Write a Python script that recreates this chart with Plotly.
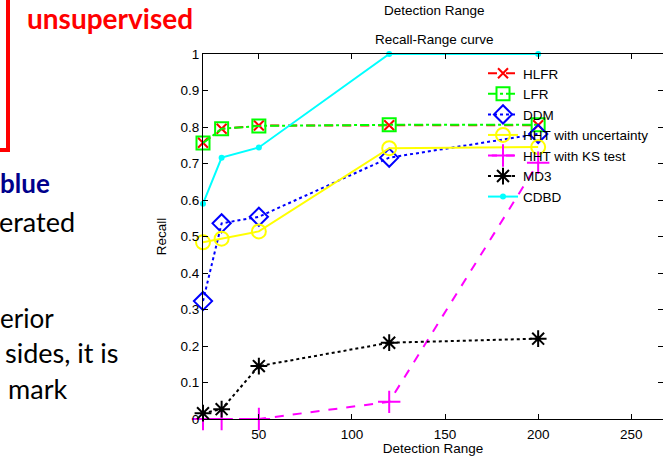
import plotly.graph_objects as go

# ---- data ----
detection_range = [20, 30, 50, 120, 200]
hlfr = [0.757, 0.795, 0.804, 0.805, 0.805]
lfr = [0.756, 0.795, 0.803, 0.806, 0.806]
ddm = [0.323, 0.536, 0.554, 0.716, 0.781]
hht_unc = [0.484, 0.494, 0.514, 0.742, 0.745]
hht_ks = [0.0, 0.0, 0.0, 0.047, 0.702]
md3 = [0.016, 0.027, 0.145, 0.209, 0.220]
cdbd = [0.590, 0.716, 0.744, 1.0, 1.0]

x_ticks = [50, 100, 150, 200, 250]
y_ticks = [0, 0.1, 0.2, 0.3, 0.4, 0.5, 0.6, 0.7, 0.8, 0.9, 1]
y_tick_text = ["0", "0.1", "0.2", "0.3", "0.4", "0.5", "0.6", "0.7", "0.8", "0.9", "1"]

W, H = 663, 456
L, T, B = 203, 54, 37
PW = W - L
PH = H - T - B
X_MIN = 20
X_MAX = X_MIN + PW / 1.862


def px(xp):
    return (xp - L) / PW


def py(yp):
    return (H - B - yp) / PH


FONT = "Liberation Sans, Arial, sans-serif"
FS = 13.5
BODY = 27

series = [
    ("HLFR", hlfr, "#FF0000", "dash", "x-thin-open", 10, 2),
    ("LFR", lfr, "#00FF00", "dashdot", "square-open", 13, 2),
    ("DDM", ddm, "#0000FF", "dot", "diamond-open", 14, 2),
    ("HHT with uncertainty", hht_unc, "#FFFF00", "solid", "circle-open", 14, 2),
    ("HHT with KS test", hht_ks, "#FF00FF", "dash", "cross-thin-open", 16, 2),
    ("MD3", md3, "#000000", "dot", "asterisk-open", 14, 2),
    ("CDBD", cdbd, "#00FFFF", "solid", "circle", 6, 0),
]

fig = go.Figure()
for name, vals, color, dash, sym, size, mlw in series:
    fig.add_trace(go.Scatter(
        x=detection_range, y=vals, name=name, mode="lines+markers",
        line=dict(color=color, dash=dash, width=2),
        marker=dict(symbol=sym, size=size, color=color,
                    line=dict(color=color, width=mlw)),
        cliponaxis=False,
    ))

# invisible helper trace for the top/right tick axes
fig.add_trace(go.Scatter(x=[X_MIN], y=[0], xaxis="x2", yaxis="y2",
                         mode="markers", marker=dict(opacity=0),
                         showlegend=False, hoverinfo="skip"))

fig.update_layout(
    width=W, height=H, autosize=False,
    margin=dict(l=L, r=0, t=T, b=B, pad=0),
    paper_bgcolor="white", plot_bgcolor="white",
    font=dict(family=FONT, size=FS, color="#000000"),
    showlegend=True,
    legend=dict(x=px(483), y=py(58), xanchor="left", yanchor="top",
                bgcolor="rgba(0,0,0,0)", borderwidth=0,
                font=dict(family=FONT, size=FS, color="#000000"),
                tracegroupgap=0, itemwidth=30),
    xaxis=dict(range=[X_MIN, X_MAX], tickvals=x_ticks,
               ticks="inside", ticklen=5, tickcolor="#000000",
               showline=True, linecolor="#000000", linewidth=1,
               showgrid=False, zeroline=False, ticklabelstandoff=3,
               tickfont=dict(family=FONT, size=FS),
               title=dict(text="Detection Range", font=dict(family=FONT, size=FS), standoff=4)),
    yaxis=dict(range=[0, 1], tickvals=y_ticks, ticktext=y_tick_text,
               ticks="inside", ticklen=5, tickcolor="#000000",
               showline=True, linecolor="#000000", linewidth=1,
               showgrid=False, zeroline=False,
               tickfont=dict(family=FONT, size=FS),
               title=dict(text="Recall", font=dict(family=FONT, size=FS), standoff=10)),
    xaxis2=dict(range=[X_MIN, X_MAX], tickvals=x_ticks, overlaying="x", side="top",
                ticks="inside", ticklen=5, tickcolor="#000000",
                showticklabels=False, showline=True, linecolor="#000000", linewidth=1,
                showgrid=False, zeroline=False),
    yaxis2=dict(range=[0, 1], tickvals=y_ticks, overlaying="y", side="right",
                ticks="inside", ticklen=5, tickcolor="#000000",
                showticklabels=False, showline=False,
                showgrid=False, zeroline=False),
)

annotations = [
    dict(text="Detection Range", x=px(434), y=py(11), xanchor="center", yanchor="middle",
         font=dict(family=FONT, size=FS, color="#000000")),
    dict(text="Recall-Range curve", x=px(434), y=py(40), xanchor="center", yanchor="middle",
         font=dict(family=FONT, size=FS, color="#000000")),
    dict(text="<b>unsupervised</b>", x=px(195), y=py(18), xanchor="right", yanchor="middle",
         font=dict(family="Lato", size=28, color="#FF0000")),
    dict(text="<b>blue</b>", x=px(52), y=py(183), xanchor="right", yanchor="middle",
         font=dict(family="Lato", size=26, color="#00008C")),
    dict(text="erated", x=px(77), y=py(221), xanchor="right", yanchor="middle",
         font=dict(family="Lato", size=BODY, color="#000000")),
    dict(text="erior", x=px(56), y=py(318), xanchor="right", yanchor="middle",
         font=dict(family="Lato", size=26, color="#000000")),
    dict(text="sides, it is", x=px(121), y=py(352), xanchor="right", yanchor="middle",
         font=dict(family="Lato", size=BODY, color="#000000")),
    dict(text="mark", x=px(69), y=py(388), xanchor="right", yanchor="middle",
         font=dict(family="Lato", size=BODY, color="#000000")),
]
for a in annotations:
    a.update(xref="paper", yref="paper", showarrow=False)
fig.update_layout(annotations=annotations)

# red frame fragment at left
fig.add_shape(type="rect", xref="paper", yref="paper",
              x0=px(-20), x1=px(8), y0=py(150), y1=py(-20),
              line=dict(color="#FF0000", width=4), fillcolor="rgba(0,0,0,0)")

fig.write_html("out.html")
